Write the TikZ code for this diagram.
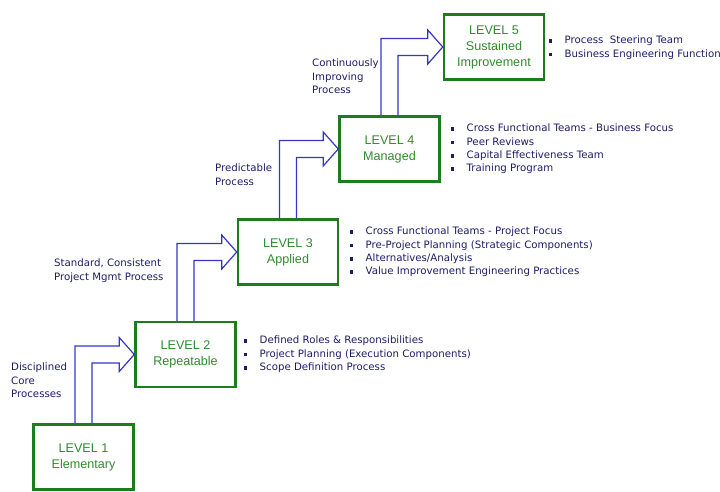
\documentclass[tikz,border=0pt]{standalone}
\usepackage{fontspec}
\setmainfont{Liberation Sans}
\newfontfamily\notefont{DejaVu Sans}
\definecolor{boxgreen}{HTML}{1E7B1E}
\definecolor{lvlgreen}{HTML}{2E8B2E}
\definecolor{flowblue}{HTML}{3535C8}
\definecolor{notenavy}{HTML}{1C1C66}
\tikzset{
  level/.style={draw=boxgreen, line width=2.5pt, minimum width=100pt, minimum height=65pt,
    align=center, text=lvlgreen, font=\fontsize{12.6}{16}\selectfont},
  flow/.style={draw=flowblue, line width=1.2pt},
  note/.style={anchor=north west, inner sep=0pt, align=left, text=notenavy,
    font=\notefont\fontsize{10.2}{13.3}\selectfont},
}
\newcommand{\sqb}{\makebox[16pt][l]{\rule[1pt]{3.6pt}{3.6pt}}}
\begin{document}
\begin{tikzpicture}[x=1pt, y=1pt]
            \useasboundingbox (0,0) rectangle (720,491);
            % the five levels
            \node[level] (lvl1) at (83.5,34) {LEVEL 1\\Elementary};
            \node[level] (lvl2) at (185.5,136.5) {LEVEL 2\\Repeatable};
            \node[level] (lvl3) at (288,239) {LEVEL 3\\Applied};
            \node[level] (lvl4) at (389.5,342) {LEVEL 4\\Managed};
            \node[level] (lvl5) at (494,444) {LEVEL 5\\Sustained\\Improvement};
            % step arrows
            \draw[flow] ([xshift=-8.5pt]lvl1.north) |- ([xshift=-15pt,yshift=8.5pt]lvl2.west) -- ++(0,8.5) -- (lvl2.west) -- ++(-15,-17) -- ++(0,8.5) -| ([xshift=8.5pt]lvl1.north);
            \draw[flow] ([xshift=-8.5pt]lvl2.north) |- ([xshift=-15pt,yshift=8.5pt]lvl3.west) -- ++(0,8.5) -- (lvl3.west) -- ++(-15,-17) -- ++(0,8.5) -| ([xshift=8.5pt]lvl2.north);
            \draw[flow] ([xshift=-8.5pt]lvl3.north) |- ([xshift=-15pt,yshift=8.5pt]lvl4.west) -- ++(0,8.5) -- (lvl4.west) -- ++(-15,-17) -- ++(0,8.5) -| ([xshift=8.5pt]lvl3.north);
            \draw[flow] ([xshift=-8.5pt]lvl4.north) |- ([xshift=-15pt,yshift=8.5pt]lvl5.west) -- ++(0,8.5) -- (lvl5.west) -- ++(-15,-17) -- ++(0,8.5) -| ([xshift=8.5pt]lvl4.north);
            % what each step takes
            \node[note] (core) at (11,128) {Disciplined\\Core\\Processes};
            \node[note] (mgmt) at (54,232) {Standard, Consistent\\Project Mgmt Process};
            \node[note] (pred) at (215,327) {Predictable\\Process};
            \node[note] (cont) at (312,432) {Continuously\\Improving\\Process};
            % practices at each level
            \node[note] (list2) at (243.5,155) {\sqb Defined Roles \& Responsibilities\\\sqb Project Planning (Execution Components)\\\sqb Scope Definition Process};
            \node[note] (list3) at (349.5,264) {\sqb Cross Functional Teams - Project Focus\\\sqb Pre-Project Planning (Strategic Components)\\\sqb Alternatives/Analysis\\\sqb Value Improvement Engineering Practices};
            \node[note] (list4) at (450.5,367) {\sqb Cross Functional Teams - Business Focus\\\sqb Peer Reviews\\\sqb Capital Effectiveness Team\\\sqb Training Program};
            \node[note] (list5) at (548.5,455) {\sqb Process\ \ Steering Team\\\sqb Business Engineering Function};
        \end{tikzpicture}
\end{document}
